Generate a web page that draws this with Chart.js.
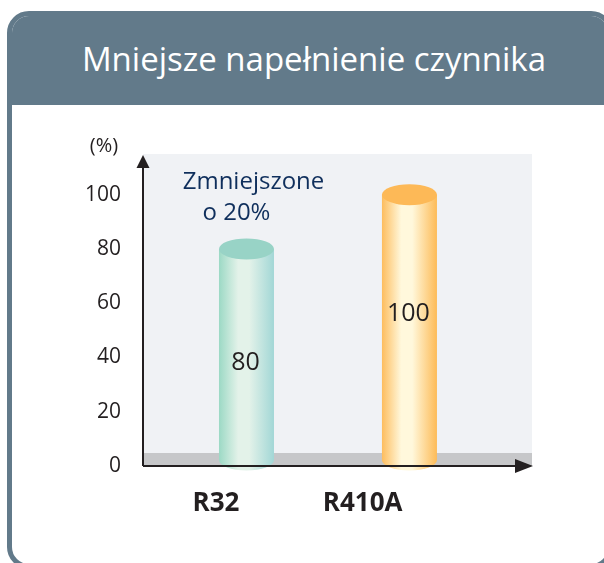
<!DOCTYPE html>
<html>
<head>
<meta charset="utf-8">
<script src="https://cdn.jsdelivr.net/npm/chart.js@4"></script>
<style>
  html, body { margin: 0; padding: 0; width: 604px; height: 563px; overflow: hidden; background: #fff; }
  #card { position: absolute; left: 7px; top: 11px; width: 606px; height: 558px; box-sizing: border-box;
          border: 5px solid #627a8a; border-radius: 22px; overflow: hidden; }
  #head { position: absolute; left: 0; top: 0; right: 0; height: 89px; background: #627a8a; }
  #head span { position: absolute; left: 8px; right: 0; top: 0; text-align: center;
               color: #fff; font: 33px "Open Sans", sans-serif; line-height: 86px; }
  #myChart { position: absolute; left: 0; top: 0; }
</style>
</head>
<body>
<div id="card"><div id="head"><span>Mniejsze napełnienie czynnika</span></div></div>
<canvas id="myChart" width="604" height="563"></canvas>
<script>
// data
var Refrigerants = ['R32', 'R410A'];
var Charge = [80, 100];
var YTicks = [0, 20, 40, 60, 80, 100];
var Note = ['Zmniejszone', 'o 20%'];

var ink = '#231f20';

// cylinders, labels and arrow axes
var cylinders = {
  id: 'cylinders',
  beforeDraw: function (chart) {
    var a = chart.chartArea, ctx = chart.ctx;
    ctx.save();
    ctx.fillStyle = '#f0f2f5';
    ctx.fillRect(a.left, a.top, a.right - a.left, a.bottom - a.top);
    ctx.fillStyle = '#c6c7c9';
    ctx.fillRect(a.left, a.bottom - 13, a.right - a.left, 13);
    ctx.restore();
  },
  afterDatasetsDraw: function (chart, args, opts) {
    var ctx = chart.ctx, a = chart.chartArea, y = chart.scales.y;
    var bars = chart.getDatasetMeta(0).data;
    ctx.save();
    bars.forEach(function (b, i) {
      var hw = b.width / 2, ry = 10.5, bot = b.base - 6;
      var c = opts.colors[i];
      var g = ctx.createLinearGradient(b.x - hw, 0, b.x + hw, 0);
      g.addColorStop(0, c[0]);
      g.addColorStop(0.35, c[1]);
      g.addColorStop(0.55, c[1]);
      g.addColorStop(1, c[2]);
      ctx.beginPath();
      ctx.moveTo(b.x - hw, b.y);
      ctx.lineTo(b.x - hw, bot);
      ctx.ellipse(b.x, bot, hw, ry, 0, Math.PI, 0, true);
      ctx.lineTo(b.x + hw, b.y);
      ctx.closePath();
      ctx.fillStyle = g;
      ctx.fill();
      ctx.beginPath();
      ctx.ellipse(b.x, b.y, hw, ry, 0, 0, Math.PI * 2);
      ctx.fillStyle = c[3];
      ctx.fill();

      ctx.fillStyle = ink;
      ctx.font = '25px "Open Sans"';
      ctx.textAlign = 'center';
      ctx.textBaseline = 'middle';
      ctx.fillText(String(Charge[i]), b.x - 1, y.getPixelForValue(opts.labelAt[i]));
    });

    // note above the first cylinder
    var b0 = bars[0];
    ctx.fillStyle = '#0f2f5c';
    ctx.font = '24px "Open Sans"';
    ctx.textAlign = 'center';
    ctx.textBaseline = 'middle';
    ctx.fillText(Note[0], b0.x + 7, b0.y - 67);
    ctx.fillText(Note[1], b0.x - 10, b0.y - 36);

    // axes with arrows
    ctx.strokeStyle = ink;
    ctx.fillStyle = ink;
    ctx.lineWidth = 2;
    ctx.beginPath();
    ctx.moveTo(a.left, a.bottom);
    ctx.lineTo(a.left, a.top + 10);
    ctx.moveTo(a.left, a.bottom);
    ctx.lineTo(a.right - 10, a.bottom);
    ctx.stroke();
    ctx.beginPath();
    ctx.moveTo(a.left, a.top + 1);
    ctx.lineTo(a.left - 6.5, a.top + 14);
    ctx.lineTo(a.left + 6.5, a.top + 14);
    ctx.fill();
    ctx.beginPath();
    ctx.moveTo(a.right + 1, a.bottom);
    ctx.lineTo(a.right - 17, a.bottom - 7);
    ctx.lineTo(a.right - 17, a.bottom + 7);
    ctx.fill();

    ctx.font = '20px "Open Sans"';
    ctx.fillText('(%)', a.left - 39, a.top - 8);
    ctx.restore();
  }
};

var ctx = document.getElementById('myChart').getContext('2d');
var myChart = new Chart(ctx, {
  type: 'bar',
  data: {
    datasets: [{
      data: Charge.map(function (v, i) { return { x: i, y: v }; }),
      backgroundColor: 'rgba(0,0,0,0)',
      barThickness: 55
    }]
  },
  options: {
    responsive: false,
    animation: false,
    events: [],
    layout: { padding: { left: 0, top: 154, right: 72, bottom: 0 } },
    plugins: {
      legend: { display: false },
      tooltip: { enabled: false },
      cylinders: {
        labelAt: [38, 56],
        colors: [
          ['#9cd9c5', '#e3f2e9', '#a2d7d6', '#98d3c6'],
          ['#fdbd5e', '#fff8dc', '#fdbb57', '#fdb957']
        ]
      }
    },
    scales: {
      x: {
        type: 'linear',
        offset: false,
        min: -0.635,
        max: 1.752,
        grid: { display: false, drawTicks: false, offset: false },
        border: { display: false },
        afterBuildTicks: function (s) {
          s.ticks = Refrigerants.map(function (r, i) { return { value: i }; });
        },
        afterFit: function (s) { s.height = 563 - 466; },
        ticks: {
          align: 'end',
          labelOffset: -7,
          padding: 22,
          color: ink,
          font: { family: 'Open Sans', size: 26, weight: 'bold' },
          callback: function (v, i) { return Refrigerants[i]; }
        }
      },
      y: {
        min: 0,
        max: 115,
        grid: { display: false, drawTicks: false },
        border: { display: false },
        afterBuildTicks: function (s) {
          s.ticks = YTicks.map(function (v) { return { value: v }; });
        },
        afterFit: function (s) { s.width = 143; },
        ticks: {
          padding: 22,
          color: ink,
          font: { family: 'Open Sans', size: 21 }
        }
      }
    }
  },
  plugins: [cylinders]
});
</script>
</body>
</html>
